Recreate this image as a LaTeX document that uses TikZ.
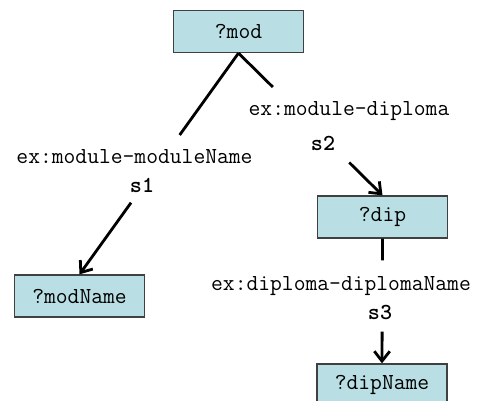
\documentclass[tikz,border=0pt]{standalone}
\usepackage{fontspec}
\usetikzlibrary{arrows.meta, calc}
\definecolor{varcyan}{RGB}{185,223,228}
\definecolor{boxedge}{RGB}{64,64,64}

\begin{document}
\begin{tikzpicture}[
  x=0.025cm, y=-0.025cm,
  font=\ttfamily\fontsize{16.3}{19}\selectfont,
  varbox/.style={draw=boxedge, line width=0.9pt, fill=varcyan, minimum width=3.25cm, minimum height=1.05cm, inner sep=0pt},
  proplabel/.style={anchor=base, inner sep=0pt},
  stepname/.style={proplabel, font=\ttfamily\bfseries\fontsize{16.3}{19}\selectfont},
  link/.style={line width=2pt},
  arrowlink/.style={link, -{Straight Barb[length=7pt, width=11pt]}},
]
\useasboundingbox (0,0) rectangle (480,401);

% Variables
\node[varbox] (mod) at (238.5,31.5) {?mod};
\node[varbox] (modName) at (79.5,296) {?modName};
\node[varbox] (dip) at (382.5,217) {?dip};
\node[varbox] (dipName) at (382,385) {?dipName};

% Properties and steps
\node[proplabel] (modModName) at (134.5,163) {ex:module-moduleName};
\node[stepname] (s1) at (142,192) {s1};
\node[proplabel] (modDip) at (349,115) {ex:module-diploma};
\node[stepname] (s2) at (323,150) {s2};
\node[proplabel] (dipDipName) at (341,290) {ex:diploma-diplomaName};
\node[stepname] (s3) at (380,319) {s3};

% Edges, broken where the labels sit
\foreach \from/\to/\i/\j in {mod/modName/0.37/0.676, mod/dip/0.238/0.769, dip/dipName/0.175/0.746}{
  \coordinate (\from-\to-in) at ($(\from.south)!\i!(\to.north)$);
  \coordinate (\from-\to-out) at ($(\from.south)!\j!(\to.north)$);
  \draw[link] (\from.south) -- (\from-\to-in);
  \draw[arrowlink] (\from-\to-out) -- (\to.north);
}
\end{tikzpicture}
\end{document}
